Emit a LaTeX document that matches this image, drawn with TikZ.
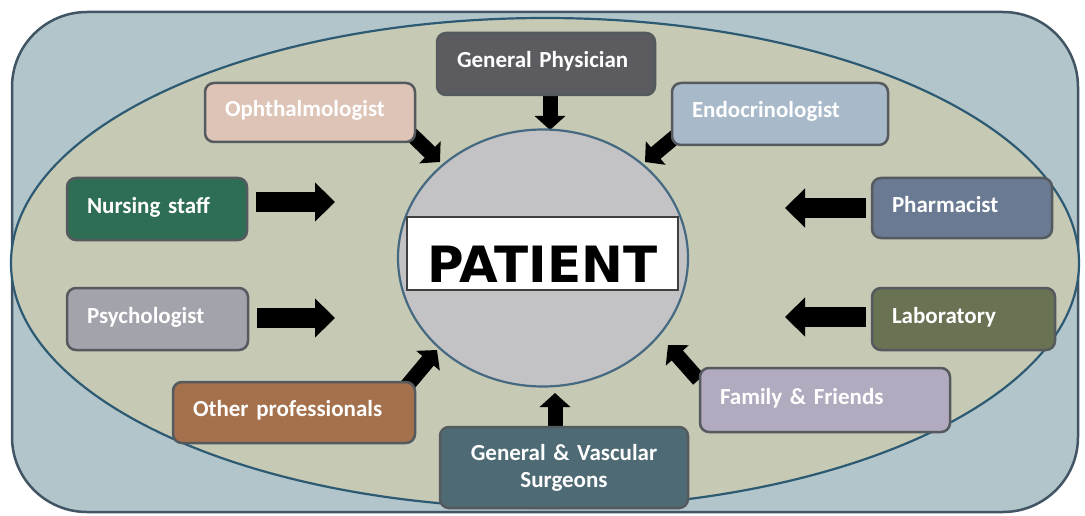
\documentclass[tikz,border=0pt]{standalone}
\usepackage{fontspec}
\setmainfont{Carlito}
\newfontfamily\patfont{DejaVu Sans}
\usetikzlibrary{arrows.meta,shapes.geometric}

% label face: bold, with a slightly tighter word space
\protected\def\cardfont{\bfseries\fontsize{23}{27}\selectfont\spaceskip=0.2em\relax}

\definecolor{frameFill}{RGB}{178,197,203}
\definecolor{frameEdge}{RGB}{65,85,100}
\definecolor{ringFill}{RGB}{198,201,180}
\definecolor{ringEdge}{RGB}{45,90,115}
\definecolor{patFill}{RGB}{195,195,197}
\definecolor{patEdge}{RGB}{70,105,130}
\definecolor{cardEdge}{RGB}{85,90,95}
\definecolor{cGp}{RGB}{92,92,96}
\definecolor{cOph}{RGB}{221,196,182}
\definecolor{cEndo}{RGB}{168,185,202}
\definecolor{cNurse}{RGB}{46,110,84}
\definecolor{cPharm}{RGB}{106,122,146}
\definecolor{cPsych}{RGB}{162,163,171}
\definecolor{cLab}{RGB}{106,114,84}
\definecolor{cOther}{RGB}{164,113,76}
\definecolor{cFam}{RGB}{178,170,190}
\definecolor{cSurg}{RGB}{78,106,116}

\pgfdeclarelayer{backdrop}
\pgfdeclarelayer{links}
\pgfsetlayers{backdrop,links,main}

\begin{document}
\begin{tikzpicture}[x=1pt,y=-1pt,
  cardbase/.style={draw=cardEdge, line width=2.5pt, rounded corners=9pt,
    text=white, font=\cardfont, inner xsep=20pt, inner ysep=0pt},
  card/.style={cardbase, align=left, text height=17pt, text depth=9pt},
  bigarr/.style={black, line width=20pt, -{Triangle[length=20pt,width=38pt]}},
  smallarr/.style={black, line width=15pt, -{Triangle[length=14pt,width=30pt]}}]

\useasboundingbox (0,0) rectangle (1085,516);

% frame and the ring of carers
\begin{pgfonlayer}{backdrop}
  \fill[white] (0,0) rectangle (1085,516);
  \draw[fill=frameFill, draw=frameEdge, line width=2.5pt, rounded corners=75pt]
    (12,12) rectangle (1078,512);
  \draw[fill=ringFill, draw=ringEdge, line width=2.2pt]
    (545,263) ellipse [x radius=534, y radius=245];
\end{pgfonlayer}

% the patient at the centre
\node[ellipse, fill=patFill, draw=patEdge, line width=2.2pt, inner sep=0pt,
  minimum width=290pt, minimum height=257pt] (pat) at (543,258) {};
\node[draw=black!75, fill=white, line width=1.5pt, minimum width=271pt,
  inner xsep=0pt, inner ysep=4pt, text height=61pt, text depth=4pt,
  font=\patfont\bfseries\fontsize{50}{50}\selectfont] (patlabel) at (542.5,253.5) {PATIENT};

% carers around the patient
\node[card, fill=cGp,    text width=178pt, minimum height=62pt] (gp)    at (546,64)    {General Physician};
\node[card, fill=cOph,   text width=170pt, minimum height=59pt] (oph)   at (310,112.5) {Ophthalmologist};
\node[card, fill=cEndo,  text width=176pt, minimum height=62pt] (endo)  at (780,114)   {Endocrinologist};
\node[card, fill=cNurse, text width=140pt, minimum height=62pt] (nurse) at (157,209)   {Nursing staff};
\node[card, fill=cPharm, text width=140pt, minimum height=60pt] (pharm) at (962,208)   {Pharmacist};
\node[card, fill=cPsych, text width=141pt, minimum height=62pt] (psych) at (157.5,319) {Psychologist};
\node[card, fill=cLab,   text width=143pt, minimum height=62pt] (lab)   at (963.5,319) {Laboratory};
\node[card, fill=cOther, text width=202pt, minimum height=61pt] (other) at (294,412.5) {Other professionals};
\node[card, fill=cFam,   text width=210pt, minimum height=64pt] (fam)   at (825,400)   {Family \& Friends};
\node[cardbase, fill=cSurg, align=center, text width=208pt, minimum height=81pt] (surg) at (564,467.5)
  {General \& Vascular\\Surgeons};

% arrow tips, just short of the patient
\coordinate (tNurse) at (335,202);
\coordinate (tPsych) at (335,318);
\coordinate (tPharm) at (785,208);
\coordinate (tLab)   at (785,317);
\coordinate (tGp)    at (550,130);
\coordinate (tOph)   at (440,162);
\coordinate (tEndo)  at (645,162);
\coordinate (tOther) at (437,350);
\coordinate (tFam)   at (668,345);
\coordinate (tSurg)  at (555,393);

\begin{pgfonlayer}{links}
  \draw[bigarr]   ([xshift=8pt,yshift=7pt]nurse.east)          -- (tNurse);
  \draw[bigarr]   ([xshift=8pt,yshift=1pt]psych.east)          -- (tPsych);
  \draw[bigarr]   ([xshift=-5pt]pharm.west)                    -- (tPharm);
  \draw[bigarr]   ([xshift=-5pt,yshift=2pt]lab.west)           -- (tLab);
  \draw[smallarr] ([xshift=4pt,yshift=3pt]gp.south)            -- (tGp);
  \draw[smallarr] ([xshift=-5pt,yshift=9pt]oph.south east)     -- (tOph);
  \draw[smallarr] ([xshift=5pt,yshift=10pt]endo.south west)    -- (tEndo);
  \draw[smallarr] ([xshift=-10pt,yshift=-6pt]other.north east) -- (tOther);
  \draw[smallarr] ([yshift=-13pt]fam.north west)               -- (tFam);
  \draw[smallarr] ([xshift=-9pt,yshift=-3pt]surg.north)        -- (tSurg);
\end{pgfonlayer}
\end{tikzpicture}
\end{document}
